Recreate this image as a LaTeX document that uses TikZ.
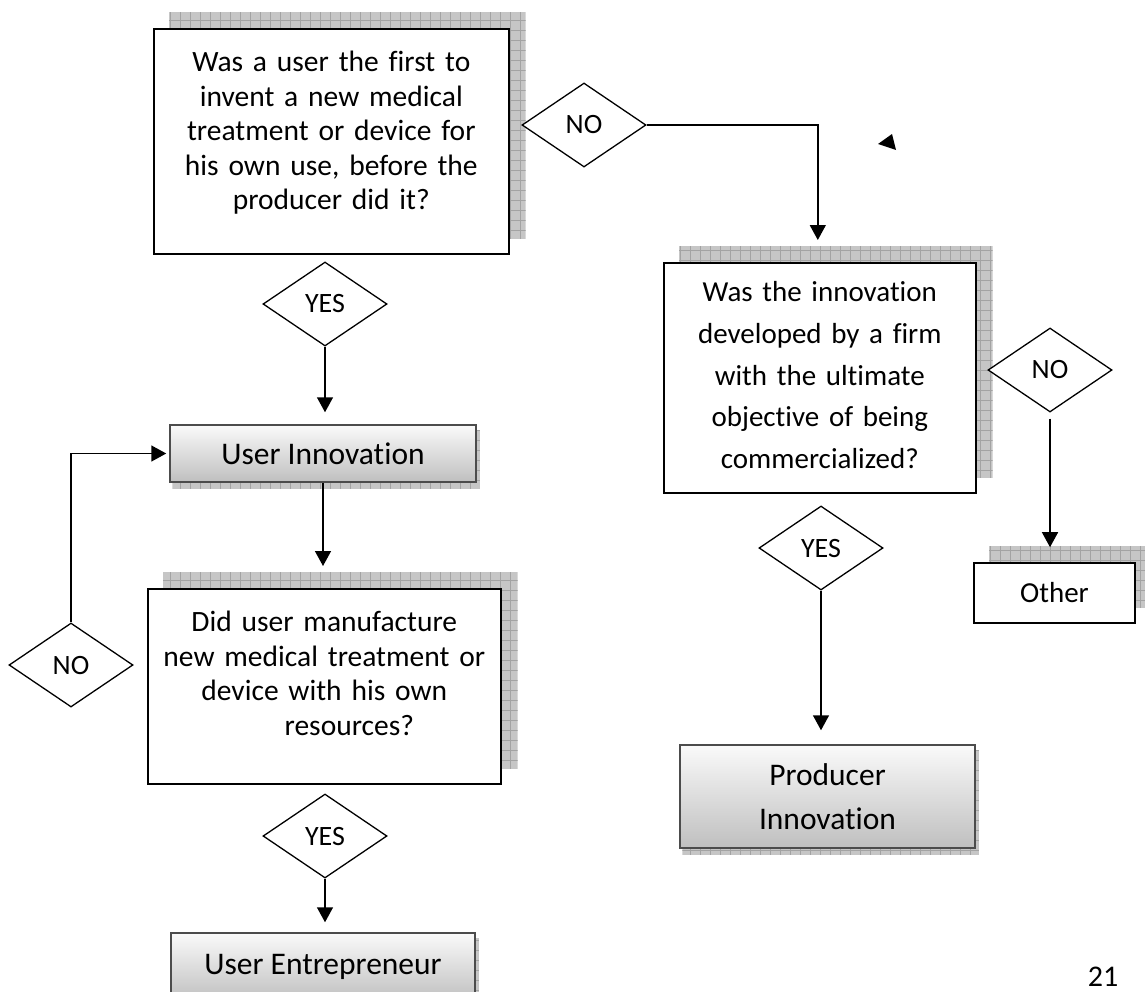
\documentclass[tikz,border=0pt]{standalone}
\usepackage{fontspec}
\setmainfont{Carlito}[Ligatures=NoCommon]
\usepackage{tikz}
\usetikzlibrary{arrows.meta, shapes.geometric, backgrounds}

\tikzset{
  question/.style={draw, line width=1.6pt, fill=white, inner sep=0pt, align=center,
    anchor=north west, font=\fontsize{29.5}{34.5}\selectfont},
  result/.style={draw=gray!60!black, line width=1.5pt, top color=gray!4, bottom color=gray!50,
    inner sep=0pt, align=center, font=\fontsize{31.5}{44}\selectfont},
  answer/.style={diamond, draw, line width=1.3pt, fill=white, inner sep=0pt,
    minimum width=124pt, minimum height=84pt, font=\fontsize{28}{32}\selectfont},
  arr/.style={line width=1.5pt, -{Triangle[width=16pt, length=15pt]}}
}

\begin{document}
\begin{tikzpicture}[x=1pt, y=-1pt]
    \useasboundingbox (0,0) rectangle (1145,991);

    % Perguntas
    \node[question, text width=355pt, text height=43pt, text depth=182pt] (q1) at (153,28)
        {Was a user the first to\\ invent a new medical\\ treatment or device for\\ his own use, before the\\ producer did it?};
    \node[question, text width=312pt, text height=39pt, text depth=191pt,
          font=\fontsize{29}{41.7}\selectfont] (q2) at (663,262)
        {Was the innovation\\ developed by a firm\\ with the ultimate\\ objective of being\\ commercialized?};
    \node[question, text width=353pt, text height=43pt, text depth=152pt] (q3) at (147,588)
        {Did user manufacture\\ new medical treatment or\\ device with his own\\ \hspace*{50pt}resources?};
    \node[question, minimum width=161pt, minimum height=60pt, anchor=center,
          font=\fontsize{29}{34}\selectfont] (other) at (1054.5,593) {Other};

    % Resultados
    \node[result, minimum width=306pt, minimum height=57pt] (ui) at (323,453.5) {User Innovation};
    \node[result, minimum width=295pt, minimum height=103pt] (prod) at (827.5,796.5) {Producer\\ Innovation};
    \node[result, minimum width=304pt, minimum height=68pt] (ue) at (323,967) {User Entrepreneur};

    % Sombras
    \begin{scope}[on background layer]
        \foreach \n/\dx/\dy in {q1/16/-16, q2/16/-16, q3/16/-16, other/16/-16, ui/3/6, prod/3/6, ue/3/6} {
            \begin{scope}
                \clip ([shift={(\dx,\dy)}]\n.south west) rectangle ([shift={(\dx,\dy)}]\n.north east);
                \fill[gray!45] (0,0) rectangle (1145,1010);
                \draw[gray!72, line width=0.5pt, step=10pt] (0,0) grid (1145,1010);
            \end{scope}
        }
    \end{scope}

    % Losangos
    \node[answer] (no1) at (584,125) {NO};
    \node[answer] (yes1) at (325,304) {YES};
    \node[answer] (no2) at (71,665) {NO};
    \node[answer] (yes3) at (325,836) {YES};
    \node[answer] (yes2) at (821,548) {YES};
    \node[answer] (no3) at (1050,370) {NO};

    % Setas
    \draw[arr] (no1.east) -| ([shift={(-2,-22)}]q2.north);
    \coordinate (t1) at ([yshift=12pt]ui.north);
    \draw[arr] (yes1.south) -- (yes1.south |- t1);
    \draw[arr, shorten >=22pt] (ui.south) -- (ui.south |- q3.north);
    \draw[arr] (no2.north) |- ([xshift=-3pt]ui.west);
    \draw[arr, shorten >=10pt] (yes3.south) -- (yes3.south |- ue.north);
    \draw[arr, shorten >=14pt] (yes2.south) -- (yes2.south |- prod.north);
    \draw[arr, shorten <=6pt, shorten >=15pt] (no3.south) -- (no3.south |- other.north);

    % Ponta solta
    \fill (878,144) -- (896,150) -- (892,134) -- cycle;

    % Pagina
    \node[anchor=base, inner sep=0pt, font=\fontsize{30}{36}\selectfont] (pagenum) at (1103,986) {21};
\end{tikzpicture}
\end{document}
